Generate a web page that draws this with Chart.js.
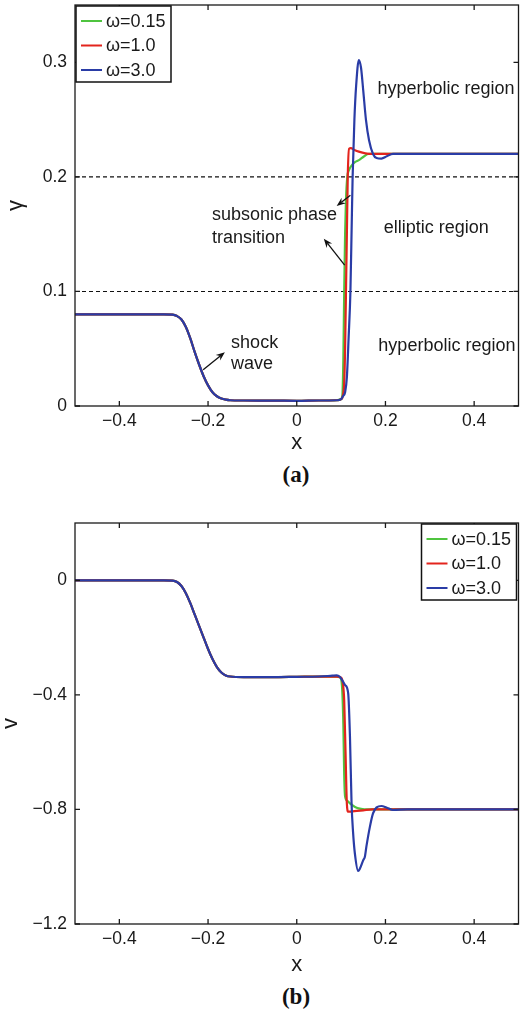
<!DOCTYPE html>
<html><head><meta charset="utf-8">
<script src="https://cdn.jsdelivr.net/npm/chart.js@4/dist/chart.umd.min.js"></script>
<style>
html,body{margin:0;padding:0;background:#fff;}
body{width:528px;height:1013px;position:relative;overflow:hidden;}
.cw{position:absolute;left:0;width:528px;}
#c1w{top:0;height:454px;}
#c2w{top:500px;height:476px;}
.lab{position:absolute;left:196px;width:200px;text-align:center;font:bold 23px "Liberation Serif","Times New Roman",serif;line-height:23px;color:#111;}
#la{top:463px;}
#lb{top:985px;}
</style></head><body>
<div class="cw" id="c1w"><canvas id="c1"></canvas></div>
<div class="cw" id="c2w"><canvas id="c2"></canvas></div>
<div class="lab" id="la">(a)</div>
<div class="lab" id="lb">(b)</div>
<script>
// ---------- data ----------
const xTicks = [-0.4, -0.2, 0, 0.2, 0.4];
const gammaTicks = [0, 0.1, 0.2, 0.3];
const vTicks = [-1.2, -0.8, -0.4, 0];
const seriesLabels = ['ω=0.15', 'ω=1.0', 'ω=3.0'];
const regionBounds = [0.1, 0.2];
const domainX = [-0.5, 0.5];

// common left shock part (all three omegas coincide)
const shockX     = [-0.5, -0.3, -0.28, -0.27, -0.26, -0.25, -0.24, -0.23, -0.22, -0.21, -0.20, -0.19, -0.18, -0.17, -0.16, -0.15, -0.12, -0.05, 0, 0.05];
const shockGamma = [0.08, 0.08, 0.0798, 0.0785, 0.0755, 0.069, 0.059, 0.047, 0.036, 0.026, 0.018, 0.012, 0.0085, 0.0065, 0.0055, 0.005, 0.0048, 0.0047, 0.0045, 0.0048];
const shockV     = [0, 0, -0.001, -0.006, -0.02, -0.045, -0.08, -0.12, -0.16, -0.2, -0.24, -0.275, -0.303, -0.322, -0.332, -0.336, -0.338, -0.338, -0.337, -0.336];

// gamma, phase transition part
const gammaX_015 = [0.09, 0.1, 0.103, 0.105, 0.107, 0.109, 0.111, 0.114, 0.118, 0.124, 0.132, 0.142, 0.152, 0.162, 0.18, 0.5];
const gamma_015  = [0.005, 0.006, 0.01, 0.04, 0.1, 0.15, 0.18, 0.2, 0.206, 0.21, 0.213, 0.215, 0.218, 0.22, 0.22, 0.22];
const gammaX_10  = [0.09, 0.1, 0.104, 0.107, 0.109, 0.111, 0.113, 0.115, 0.118, 0.122, 0.13, 0.14, 0.155, 0.17, 0.5];
const gamma_10   = [0.005, 0.006, 0.009, 0.02, 0.05, 0.1, 0.15, 0.2, 0.2245, 0.225, 0.2235, 0.222, 0.2205, 0.22, 0.22];
const gammaX_30  = [0.09, 0.1, 0.105, 0.109, 0.113, 0.117, 0.121, 0.124, 0.126, 0.13, 0.134, 0.14, 0.145, 0.15, 0.156, 0.163, 0.172, 0.18, 0.191, 0.203, 0.217, 0.25, 0.5];
const gamma_30   = [0.005, 0.006, 0.009, 0.012, 0.025, 0.06, 0.1, 0.16, 0.2, 0.25, 0.28, 0.302, 0.295, 0.275, 0.25, 0.232, 0.22, 0.2165, 0.216, 0.218, 0.22, 0.22, 0.22];

// v, phase transition part
const vX_015 = [0.09, 0.098, 0.102, 0.105, 0.107, 0.109, 0.114, 0.12, 0.127, 0.135, 0.145, 0.16, 0.5];
const v_015  = [-0.336, -0.34, -0.37, -0.5, -0.68, -0.755, -0.77, -0.779, -0.787, -0.794, -0.798, -0.8, -0.8];
const vX_10  = [0.09, 0.1, 0.104, 0.107, 0.11, 0.113, 0.116, 0.12, 0.13, 0.15, 0.17, 0.5];
const v_10   = [-0.336, -0.34, -0.36, -0.42, -0.6, -0.78, -0.808, -0.808, -0.806, -0.803, -0.8, -0.8];
const vX_30  = [0.08, 0.09, 0.097, 0.103, 0.109, 0.116, 0.12, 0.1236, 0.127, 0.131, 0.1386, 0.142, 0.15, 0.1536, 0.157, 0.165, 0.172, 0.18, 0.191, 0.202, 0.217, 0.25, 0.5];
const v_30   = [-0.333, -0.332, -0.337, -0.35, -0.366, -0.395, -0.547, -0.779, -0.88, -0.953, -1.015, -1.008, -0.977, -0.965, -0.93, -0.86, -0.814, -0.793, -0.788, -0.793, -0.802, -0.8, -0.8];

// annotation texts (positions in data units)
const notesA = [
  {text: 'hyperbolic region', x: 0.182, y: 0.277},
  {text: 'elliptic region', x: 0.196, y: 0.155},
  {text: 'hyperbolic region', x: 0.184, y: 0.052},
  {text: 'subsonic phase', x: -0.191, y: 0.167},
  {text: 'transition', x: -0.191, y: 0.147},
  {text: 'shock', x: -0.148, y: 0.055},
  {text: 'wave', x: -0.148, y: 0.037}
];
const arrowsA = [
  {x0: -0.211, y0: 0.0316, x1: -0.162, y1: 0.047},
  {x0: 0.121, y0: 0.184, x1: 0.090, y1: 0.1746},
  {x0: 0.108, y0: 0.123, x1: 0.061, y1: 0.146}
];

// ---------- styling ----------
const COLORS = ['#4fc43f', '#e3241d', '#2a3ca6'];
const FONT = '"Liberation Sans", Arial, Helvetica, sans-serif';
const INK = '#1a1a1a';

function pts(xa, ya) { return xa.map((x, i) => ({x: x, y: ya[i]})); }
function fmt(v) { return v === 0 ? '0' : String(v).replace('-', '\u2212'); }

const framePlugin = {
  id: 'frame',
  afterDatasetsDraw(chart, args, opts) {
    const ctx = chart.ctx, a = chart.chartArea, sx = chart.scales.x, sy = chart.scales.y;
    ctx.save();
    ctx.strokeStyle = INK; ctx.lineWidth = 1.3;
    ctx.strokeRect(a.left, a.top, a.right - a.left, a.bottom - a.top);
    const tl = 5;
    ctx.beginPath();
    sx.ticks.forEach(t => {
      const p = sx.getPixelForValue(t.value);
      ctx.moveTo(p, a.bottom); ctx.lineTo(p, a.bottom - tl);
      ctx.moveTo(p, a.top); ctx.lineTo(p, a.top + tl);
    });
    sy.ticks.forEach(t => {
      const p = sy.getPixelForValue(t.value);
      ctx.moveTo(a.left, p); ctx.lineTo(a.left + tl, p);
      ctx.moveTo(a.right, p); ctx.lineTo(a.right - tl, p);
    });
    ctx.stroke();

    const lw = 95, lh = 76;
    const lx = opts.legendSide === 'right' ? a.right - 2 - lw : a.left + 1;
    const ly = a.top + 1;
    ctx.fillStyle = '#fff';
    ctx.fillRect(lx, ly, lw, lh);
    ctx.lineWidth = 1.5; ctx.strokeStyle = '#111';
    ctx.strokeRect(lx, ly, lw, lh);
    ctx.font = '18px ' + FONT;
    ctx.textBaseline = 'middle'; ctx.textAlign = 'left';
    seriesLabels.forEach((lab, i) => {
      const yy = ly + 15 + i * 24.5;
      ctx.strokeStyle = COLORS[i]; ctx.lineWidth = 2;
      ctx.beginPath(); ctx.moveTo(lx + 5, yy); ctx.lineTo(lx + 26, yy); ctx.stroke();
      ctx.fillStyle = INK;
      ctx.fillText(lab, lx + 30, yy + 1);
    });

    (opts.notes || []).forEach(n => {
      ctx.fillStyle = INK;
      ctx.font = '18px ' + FONT;
      ctx.fillText(n.text, sx.getPixelForValue(n.x), sy.getPixelForValue(n.y));
    });
    (opts.arrows || []).forEach(r => {
      const x0 = sx.getPixelForValue(r.x0), y0 = sy.getPixelForValue(r.y0);
      const x1 = sx.getPixelForValue(r.x1), y1 = sy.getPixelForValue(r.y1);
      const ang = Math.atan2(y1 - y0, x1 - x0);
      ctx.strokeStyle = '#111'; ctx.lineWidth = 1.3;
      ctx.beginPath(); ctx.moveTo(x0, y0);
      ctx.lineTo(x1 - 6 * Math.cos(ang), y1 - 6 * Math.sin(ang)); ctx.stroke();
      ctx.fillStyle = '#111';
      ctx.beginPath();
      ctx.moveTo(x1, y1);
      ctx.lineTo(x1 - 9 * Math.cos(ang) + 3.5 * Math.sin(ang), y1 - 9 * Math.sin(ang) - 3.5 * Math.cos(ang));
      ctx.lineTo(x1 - 6 * Math.cos(ang), y1 - 6 * Math.sin(ang));
      ctx.lineTo(x1 - 9 * Math.cos(ang) - 3.5 * Math.sin(ang), y1 - 9 * Math.sin(ang) + 3.5 * Math.cos(ang));
      ctx.closePath(); ctx.fill();
    });
    ctx.restore();
  }
};

function lineDs(label, data, color, order) {
  return {label: label, data: data, borderColor: color, backgroundColor: color, borderWidth: 2.2,
          pointRadius: 0, fill: false, cubicInterpolationMode: 'monotone', order: order};
}
function dashDs(yv) {
  return {label: '', data: pts(domainX, [yv, yv]), borderColor: '#111', borderWidth: 1.1,
          borderDash: [4, 3], pointRadius: 0, fill: false, order: 5};
}

function makeOptions(cfg) {
  return {
    responsive: true, maintainAspectRatio: false, animation: false, devicePixelRatio: 1,
    layout: {padding: {top: cfg.padTop, right: 9.5, left: 0, bottom: 0}},
    plugins: {legend: {display: false}, tooltip: {enabled: false},
              frame: {legendSide: cfg.legendSide, notes: cfg.notes, arrows: cfg.arrows}},
    scales: {
      x: {type: 'linear', min: domainX[0], max: domainX[1],
          afterBuildTicks: s => { s.ticks = xTicks.map(v => ({value: v})); },
          afterFit: s => { s.height = cfg.xHeight; s.paddingLeft = 0; s.paddingRight = 0; },
          grid: {display: false, drawTicks: false, tickLength: 0}, border: {display: false},
          ticks: {padding: 5, color: INK, font: {family: FONT, size: 17.5}, callback: v => fmt(v), maxRotation: 0, autoSkip: false},
          title: {display: true, text: 'x', color: INK, font: {family: FONT, size: 22, lineHeight: 1}, padding: {top: 0, bottom: 0}}},
      y: {type: 'linear', min: cfg.yMin, max: cfg.yMax,
          afterBuildTicks: s => { s.ticks = cfg.yTicks.map(v => ({value: v})); },
          afterFit: s => { s.width = 75; s.paddingTop = 0; s.paddingBottom = 0; },
          grid: {display: false, drawTicks: false, tickLength: 0}, border: {display: false},
          ticks: {padding: 8, color: INK, font: {family: FONT, size: 17.5}, callback: v => fmt(v), autoSkip: false},
          title: {display: true, text: cfg.yTitle, color: INK, font: {family: FONT, size: 22, lineHeight: 1}, padding: {top: cfg.yTitlePad, bottom: 0}}}
    }
  };
}

new Chart(document.getElementById('c1'), {
  type: 'line',
  data: {datasets: [
    lineDs(seriesLabels[0], pts(shockX.concat(gammaX_015), shockGamma.concat(gamma_015)), COLORS[0], 2),
    lineDs(seriesLabels[1], pts(shockX.concat(gammaX_10), shockGamma.concat(gamma_10)), COLORS[1], 1),
    lineDs(seriesLabels[2], pts(shockX.concat(gammaX_30), shockGamma.concat(gamma_30)), COLORS[2], 0),
    dashDs(regionBounds[0]), dashDs(regionBounds[1])
  ]},
  options: makeOptions({padTop: 5, xHeight: 48, yMin: 0, yMax: 0.35, yTicks: gammaTicks, yTitle: 'γ', yTitlePad: 5,
                        legendSide: 'left', notes: notesA, arrows: arrowsA}),
  plugins: [framePlugin]
});

new Chart(document.getElementById('c2'), {
  type: 'line',
  data: {datasets: [
    lineDs(seriesLabels[0], pts(shockX.concat(vX_015), shockV.concat(v_015)), COLORS[0], 2),
    lineDs(seriesLabels[1], pts(shockX.concat(vX_10), shockV.concat(v_10)), COLORS[1], 1),
    lineDs(seriesLabels[2], pts(shockX.concat(vX_30), shockV.concat(v_30)), COLORS[2], 0)
  ]},
  options: makeOptions({padTop: 23, xHeight: 52, yMin: -1.2, yMax: 0.2, yTicks: vTicks, yTitle: 'v', yTitlePad: 0,
                        legendSide: 'right', notes: [], arrows: []}),
  plugins: [framePlugin]
});
</script>
</body></html>
